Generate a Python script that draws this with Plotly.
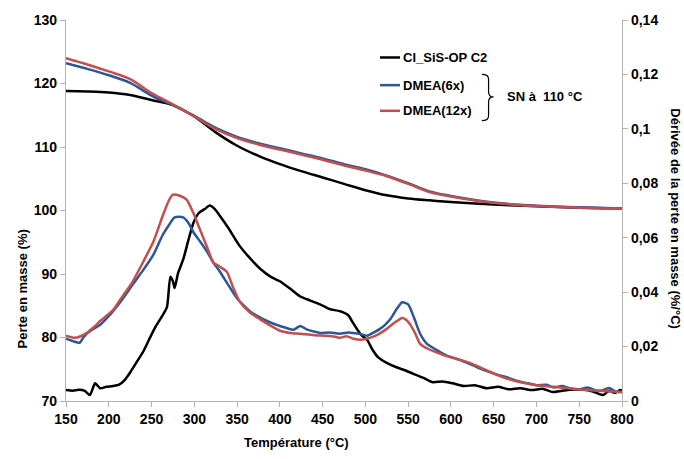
import plotly.graph_objects as go

# ---------------- data ----------------
mass_T = [150, 175, 200, 225, 250, 275, 300, 325, 350, 375, 400, 425, 450, 475,
          500, 525, 550, 575, 600, 650, 700, 750, 800]
mass_black = [118.8, 118.75, 118.6, 118.2, 117.4, 116.6, 114.8, 112.3, 110.2, 108.6,
              107.3, 106.2, 105.2, 104.2, 103.2, 102.4, 101.9, 101.6, 101.35, 100.95,
              100.65, 100.45, 100.3]
mass_red = [124.0, 123.0, 121.9, 120.7, 118.5, 116.7, 114.8, 112.8, 111.4, 110.4,
            109.6, 108.8, 108.0, 107.1, 106.3, 105.4, 104.2, 102.9, 102.2, 101.2,
            100.7, 100.45, 100.3]
mass_blue = [123.2, 122.3, 121.3, 120.1, 118.1, 116.6, 114.9, 113.0, 111.6, 110.6,
             109.8, 109.0, 108.2, 107.3, 106.5, 105.5, 104.3, 103.0, 102.3, 101.25,
             100.75, 100.5, 100.3]

dtg_black_T = [150, 158, 165, 172, 178, 184, 190, 197, 205, 212, 218, 225, 232, 240, 247,
               255, 262, 268, 272, 275, 277, 281, 287, 293, 299, 305, 312, 318, 324, 330,
               340, 353, 365, 377, 390, 400, 412, 424, 435, 447, 458, 470, 480, 485, 490,
               496, 502, 508, 515, 525, 537, 547, 556, 568, 579, 590, 602, 615, 628, 642,
               655, 668, 681, 695, 707, 719, 730, 745, 759, 770, 778, 785, 792, 798, 800]
dtg_black = [.0040, .0038, .0041, .0037, .0022, .0065, .0047, .0052, .0055, .0060, .0075,
             .0105, .0140, .0180, .0225, .0275, .0310, .0345, .0457, .0440, .0415, .0470,
             .0520, .0590, .0655, .0690, .0705, .0718, .0705, .0680, .0635, .0570, .0525,
             .0486, .0455, .0440, .0413, .0384, .0370, .0355, .0338, .0330, .0315, .0290,
             .0265, .0240, .0225, .0190, .0160, .0140, .0123, .0112, .0100, .0085, .0069,
             .0072, .0065, .0055, .0058, .0047, .0052, .0043, .0047, .0040, .0045, .0033,
             .0038, .0042, .0040, .0030, .0022, .0038, .0030, .0040, .0038]

dtg_blue_T = [150, 158, 166, 170, 174, 182, 190, 198, 205, 215, 228, 240, 252, 263, 270,
              277, 287, 293, 299, 307, 315, 322, 330, 340, 350, 358, 365, 375, 385, 396,
              408, 416, 424, 432, 440, 447, 458, 470, 480, 486, 494, 502, 510, 517, 523,
              529, 536, 543, 550, 557, 564, 572, 583, 595, 607, 619, 630, 642, 653, 665,
              680, 690, 700, 712, 720, 730, 739, 750, 760, 770, 778, 785, 792, 800]
dtg_blue = [.0229, .0220, .0214, .0232, .0247, .0265, .0280, .0305, .0330, .0370, .0428,
            .0480, .0537, .0610, .0645, .0675, .0675, .0655, .0620, .0585, .0548, .0510,
            .0475, .0425, .0377, .0350, .0330, .0310, .0294, .0280, .0268, .0262, .0276,
            .0262, .0255, .0250, .0252, .0247, .0252, .0250, .0246, .0240, .0252, .0265,
            .0280, .0300, .0335, .0363, .0355, .0305, .0247, .0210, .0188, .0167, .0155,
            .0140, .0125, .0110, .0098, .0087, .0072, .0065, .0058, .0060, .0050, .0055,
            .0047, .0042, .0050, .0038, .0040, .0048, .0035, .0033]

dtg_red_T = [150, 160, 167, 174, 182, 190, 198, 205, 215, 228, 240, 252, 263, 270, 275,
             283, 291, 299, 307, 315, 322, 330, 338, 345, 353, 365, 377, 390, 400, 412,
             424, 440, 455, 465, 470, 478, 486, 495, 505, 515, 525, 535, 543, 547, 552,
             558, 564, 573, 584, 595, 610, 622, 640, 661, 680, 700, 720, 740, 759, 780,
             798, 800]
dtg_red = [.0240, .0232, .0238, .0250, .0270, .0294, .0315, .0334, .0380, .0439, .0510,
           .0584, .0680, .0735, .0758, .0754, .0740, .0690, .0627, .0565, .0510, .0493,
           .0475, .0420, .0366, .0325, .0300, .0275, .0258, .0250, .0247, .0242, .0240,
           .0236, .0232, .0238, .0229, .0225, .0232, .0245, .0265, .0290, .0305, .0300,
           .0283, .0250, .0210, .0192, .0178, .0165, .0152, .0140, .0115, .0087, .0070,
           .0058, .0052, .0046, .0040, .0036, .0033, .0033]

x_ticks = list(range(150, 801, 50))
left_ticks = [70, 80, 90, 100, 110, 120, 130]
right_ticks = [0, 0.02, 0.04, 0.06, 0.08, 0.1, 0.12, 0.14]
right_ticktext = ["0", "0,02", "0,04", "0,06", "0,08", "0,1", "0,12", "0,14"]

names = ["Cl_SiS-OP C2", "DMEA(6x)", "DMEA(12x)"]
BLACK, BLUE, RED = "#000000", "#2B5797", "#C0504D"
FONT = "Liberation Sans, Arial, sans-serif"
AXC = "#b3b3b3"

fig = go.Figure()
# mass curves (left axis)
for T, y, c in [(mass_T, mass_black, BLACK), (mass_T, mass_blue, BLUE), (mass_T, mass_red, RED)]:
    fig.add_trace(go.Scatter(x=T, y=y, mode="lines", line=dict(color=c, width=2.5, shape="spline"),
                             showlegend=False, yaxis="y"))
# derivative curves (right axis)
for T, y, c in [(dtg_black_T, dtg_black, BLACK), (dtg_blue_T, dtg_blue, BLUE), (dtg_red_T, dtg_red, RED)]:
    fig.add_trace(go.Scatter(x=T, y=y, mode="lines", line=dict(color=c, width=2.5, shape="spline", smoothing=0.6),
                             showlegend=False, yaxis="y2"))

tickfont = dict(family=FONT, size=14, color="#000000", weight="bold")

fig.update_layout(
    width=684, height=459,
    margin=dict(l=66, r=62, t=15, b=58),
    paper_bgcolor="white", plot_bgcolor="white",
    xaxis=dict(range=[150, 800], tickvals=x_ticks, showgrid=False, zeroline=False,
               showline=True, linecolor=AXC, linewidth=1.3, ticks="outside", ticklen=5,
               tickcolor=AXC, tickfont=tickfont),
    yaxis=dict(range=[70, 130], tickvals=left_ticks, showgrid=False, zeroline=False,
               showline=True, linecolor=AXC, linewidth=1.3, ticks="outside", ticklen=5,
               tickcolor=AXC, tickfont=tickfont),
    yaxis2=dict(range=[0, 0.14], tickvals=right_ticks, ticktext=right_ticktext,
                overlaying="y", side="right", showgrid=False, zeroline=False,
                showline=True, linecolor=AXC, linewidth=1.3, ticks="outside", ticklen=5,
                tickcolor=AXC, tickfont=tickfont),
    showlegend=False,
)

ann_font = dict(family=FONT, size=13, color="#000000", weight="bold")
annotations = [
    dict(text="Température (°C)", x=0.4137, y=-0.108, xref="paper", yref="paper",
         xanchor="center", yanchor="middle", showarrow=False, font=ann_font),
    dict(text="Perte en masse (%)", x=-0.079, y=0.293, xref="paper", yref="paper",
         xanchor="center", yanchor="middle", textangle=-90, showarrow=False, font=ann_font),
    dict(text="Dérivée de la perte en masse (%/°C)", x=1.097, y=0.477, xref="paper", yref="paper",
         xanchor="center", yanchor="middle", textangle=90, showarrow=False, font=ann_font),
    dict(text="SN à  110 °C", x=0.7896, y=0.798, xref="paper", yref="paper",
         xanchor="left", yanchor="middle", showarrow=False, font=ann_font),
]
leg_y = [0.9016, 0.829, 0.7617]
shapes = []
for n, c, yy in zip(names, [BLACK, BLUE, RED], leg_y):
    annotations.append(dict(text=n, x=0.603, y=yy, xref="paper", yref="paper",
                            xanchor="left", yanchor="middle", showarrow=False, font=ann_font))
    shapes.append(dict(type="line", xref="paper", yref="paper", x0=0.5647, x1=0.6007,
                       y0=yy, y1=yy, line=dict(color=c, width=2.5)))
# brace
shapes.append(dict(type="path", xref="paper", yref="paper",
                   path="M 0.748,0.8575 Q 0.760,0.8575 0.760,0.845 L 0.760,0.812 Q 0.760,0.798 0.769,0.798 "
                        "Q 0.760,0.798 0.760,0.784 L 0.760,0.749 Q 0.760,0.736 0.748,0.736",
                   line=dict(color="#000000", width=1.2)))

fig.update_layout(annotations=annotations, shapes=shapes)
fig.write_html("out.html", config={"displayModeBar": False},
               post_script="document.body.style.margin='0';document.body.style.overflow='hidden';")
